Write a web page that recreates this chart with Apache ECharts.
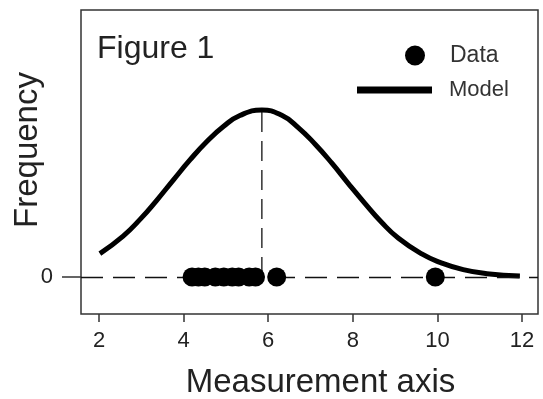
<!DOCTYPE html>
<html>
<head>
<meta charset="utf-8">
<script src="https://cdn.jsdelivr.net/npm/echarts@6/dist/echarts.min.js"></script>
<style>
html,body{margin:0;padding:0;background:#fff;}
#chart{width:543px;height:399px;}
</style>
</head>
<body>
<div id="chart"></div>
<script>
// Model curve (x, relative frequency)
var modelX = [2.02, 2.57, 2.97, 3.36, 3.76, 4.15, 4.55, 4.94, 5.33, 5.85, 6.32, 6.71, 7.11, 7.50, 7.89, 8.29, 8.68, 9.08, 9.63, 10.06, 10.61, 11.17, 11.95];
var modelY = [0.140, 0.245, 0.345, 0.458, 0.582, 0.701, 0.811, 0.901, 0.967, 1.000, 0.968, 0.895, 0.795, 0.683, 0.561, 0.440, 0.328, 0.232, 0.138, 0.088, 0.044, 0.020, 0.006];
// Data points (all at frequency 0)
var dataX = [4.2, 4.35, 4.5, 4.75, 4.95, 5.15, 5.3, 5.55, 5.7, 6.2, 9.95];
// Peak of the model (vertical dashed line)
var peakX = 5.85;
var peakY = 1.0;
// Tick labels
var xTicks = [2, 4, 6, 8, 10, 12];
var yTicks = [0];

var FONT = "'Liberation Sans', Arial, sans-serif";
var TXT = '#222';

var chart = echarts.init(document.getElementById('chart'), null, {renderer: 'canvas'});

var modelData = modelX.map(function (x, i) { return [x, modelY[i]]; });
var pointData = dataX.map(function (x) { return [x, 0]; });

chart.setOption({
  animation: false,
  backgroundColor: '#fff',
  grid: {
    left: 81, right: 5, top: 10, bottom: 85,
    outerBoundsMode: 'none', containLabel: false,
    show: true, borderColor: '#333', borderWidth: 1.5, backgroundColor: 'transparent'
  },
  xAxis: {
    type: 'value', min: 1.574, max: 12.378,
    splitLine: {show: false},
    axisLine: {show: false, onZero: false},
    axisTick: {show: true, length: 8, customValues: xTicks, lineStyle: {color: '#333', width: 1.5}},
    axisLabel: {customValues: xTicks, margin: 16, fontSize: 22, fontFamily: FONT, color: TXT},
    name: 'Measurement axis', nameLocation: 'middle', nameGap: 52,
    nameTextStyle: {fontSize: 33, fontFamily: FONT, color: TXT, padding: [0, 0, 0, 22]}
  },
  yAxis: {
    type: 'value', min: -0.2216, max: 1.599,
    splitLine: {show: false},
    axisLine: {show: false, onZero: false},
    axisTick: {show: true, length: 19, customValues: yTicks, lineStyle: {color: '#333', width: 1.5}},
    axisLabel: {customValues: yTicks, margin: 28, fontSize: 22, fontFamily: FONT, color: TXT}
  },
  legend: [
    {
      data: [{name: 'Data', icon: 'circle'}],
      left: 405, top: 44, padding: 0, itemWidth: 20, itemHeight: 20,
      textStyle: {fontSize: 23, fontFamily: FONT, color: '#333', padding: [0, 0, 0, 20]},
      selectedMode: false
    },
    {
      data: [{name: 'Model', icon: 'rect'}],
      left: 357, top: 79, padding: 0, itemWidth: 75, itemHeight: 7,
      textStyle: {fontSize: 22, fontFamily: FONT, color: '#333', padding: [0, 0, 0, 12]},
      selectedMode: false
    }
  ],
  graphic: [
    {
      type: 'text', left: 97, top: 33,
      style: {text: 'Figure 1', font: '32px ' + FONT, fill: TXT}
    },
    {
      type: 'text', x: 28, y: 150, rotation: Math.PI / 2,
      style: {text: 'Frequency', font: '33px ' + FONT, fill: TXT, align: 'center', verticalAlign: 'middle'}
    }
  ],
  series: [
    {
      name: 'Zero', type: 'line', data: [], silent: true,
      markLine: {
        silent: true, symbol: 'none', label: {show: false},
        lineStyle: {color: '#111', width: 1.3, type: [22, 10]},
        data: [{yAxis: 0}]
      }
    },
    {
      name: 'Peak', type: 'line', data: [[peakX, 0], [peakX, peakY]],
      showSymbol: false, silent: true,
      lineStyle: {color: '#111', width: 1.3, type: [20, 9]}
    },
    {
      name: 'Model', type: 'line', data: modelData, smooth: 0.5,
      showSymbol: false, symbol: 'none',
      lineStyle: {color: '#000', width: 5}, itemStyle: {color: '#000'}
    },
    {
      name: 'Data', type: 'scatter', data: pointData, symbol: 'circle', symbolSize: 19,
      itemStyle: {color: '#000', opacity: 1}, z: 5
    }
  ]
});
</script>
</body>
</html>
